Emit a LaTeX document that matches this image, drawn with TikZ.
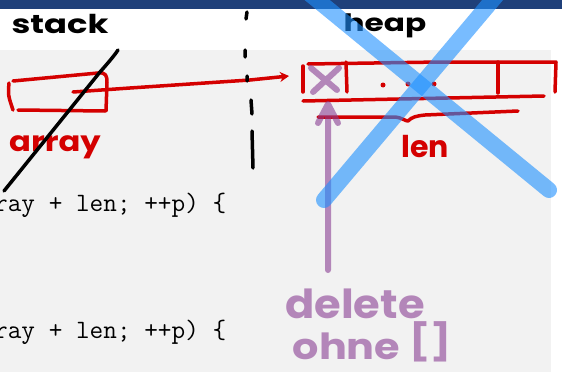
\documentclass[tikz,border=0pt]{standalone}
\usepackage{graphicx}
\usepackage{fontspec}
\newfontfamily\hand{Poppins}
\usetikzlibrary{arrows.meta}
\definecolor{topbar}{HTML}{1F407A}
\definecolor{codebg}{HTML}{F2F2F2}
\definecolor{inkred}{HTML}{D40000}
\definecolor{inkpurple}{RGB}{138,63,147}
\definecolor{inkblue}{RGB}{30,144,255}
\tikzset{
  pen/.style={line width=3.5pt, line cap=round, line join=round},
  redpen/.style={pen, draw=inkred},
  blackpen/.style={pen, draw=black},
  purplepen/.style={line width=6pt, line cap=round, line join=round, draw=inkpurple, draw opacity=0.6},
  bluepen/.style={line width=16pt, line cap=round, draw=inkblue, draw opacity=0.6},
  handtext/.style={inner sep=0pt, anchor=base, font=\hand\bfseries},
  codetext/.style={inner sep=0pt, anchor=base west, font=\ttfamily\fontsize{26.5}{30}\selectfont}
}
\begin{document}
\begin{tikzpicture}[x=1pt, y=-1pt]
\useasboundingbox (0,0) rectangle (562,372);
\clip (0,0) rectangle (562,372);
% backgrounds
\fill[white] (0,0) rectangle (562,372);
\fill[codebg] (0,50) rectangle (551,372);
\fill[topbar] (0,0) rectangle (562,9);
% code
\node[codetext] (code1) at (-6,211) {ray + len; ++p) \{};
\node[codetext] (code2) at (-6,338) {ray + len; ++p) \{};
% labels
\node[handtext, font=\hand\bfseries\fontsize{26}{26}\selectfont] (stack) at (60,33) {\scalebox{1.3}[1]{stack}};
\node[handtext, font=\hand\bfseries\fontsize{24}{24}\selectfont] (heap) at (385,31) {\scalebox{1.3}[1]{heap}};
\node[handtext, text=inkred, font=\hand\bfseries\fontsize{28}{28}\selectfont] (arraylbl) at (55,151) {\scalebox{1.15}[1]{array}};
\node[handtext, text=inkred, font=\hand\bfseries\fontsize{30}{30}\selectfont] (lenlbl) at (425,157) {len};
% array box (stack)
\draw[redpen] (9,83) .. controls (8,95) .. (13,110);
\draw[redpen] (13,81) -- (98,73) .. controls (106,72) and (107,76) .. (107,82) -- (106,111);
\draw[redpen] (18,110) -- (105,111);
\coordinate (ptrstart) at (73,92);
\coordinate (ptrend) at (289,76);
\draw[redpen, -{Stealth[length=9pt, width=10pt]}] (ptrstart) -- (130,88) -- (250,80) -- (ptrend);
% heap array
\draw[redpen] (303,66) -- (303,92);
\draw[redpen] (308,64) -- (440,62) -- (556,62) -- (555,92);
\draw[redpen] (303,101) -- (544,96);
\draw[redpen] (346,62) -- (347,92);
\draw[redpen] (498,62) -- (498,93);
\fill[inkred] (383,85) circle (2.5) (408,84) circle (2.5) (434,84) circle (2.5);
\draw[redpen] (318,117) -- (395,117) .. controls (403,118) and (405,121) .. (408,121) .. controls (412,117) and (416,116) .. (425,115) -- (518,111);
% stack/heap separator
\draw[blackpen] (247,12) -- (246,19) (245,50) -- (245,57) (247,76) -- (247,81) (251,100) -- (252,114) (252,131) -- (253,168);
% cross-out of array
\draw[blackpen] (118,50) .. controls (114,56) and (108,63) .. (100,72) -- (4,191);
% purple
\draw[purplepen] (311,68) -- (337,90) (339,68) -- (313,92);
\coordinate (delfoot) at (328,270);
\coordinate (deltip) at (328,104);
\draw[purplepen] (delfoot) -- (deltip) (318,123) -- (deltip) -- (338,123);
\node[handtext, text=inkpurple, text opacity=0.6, font=\hand\bfseries\fontsize{40}{40}\selectfont] (dellbl) at (355,318) {\scalebox{1.08}[1]{delete}};
\node[handtext, text=inkpurple, text opacity=0.6, font=\hand\bfseries\fontsize{36}{36}\selectfont] (ohnelbl) at (372,359) {\scalebox{1.15}[1]{ohne \raisebox{5pt}{[]}}};
% blue X
\draw[bluepen] (305,-10) -- (549,190);
\draw[bluepen] (501,-10) -- (324,200);
\end{tikzpicture}
\end{document}
